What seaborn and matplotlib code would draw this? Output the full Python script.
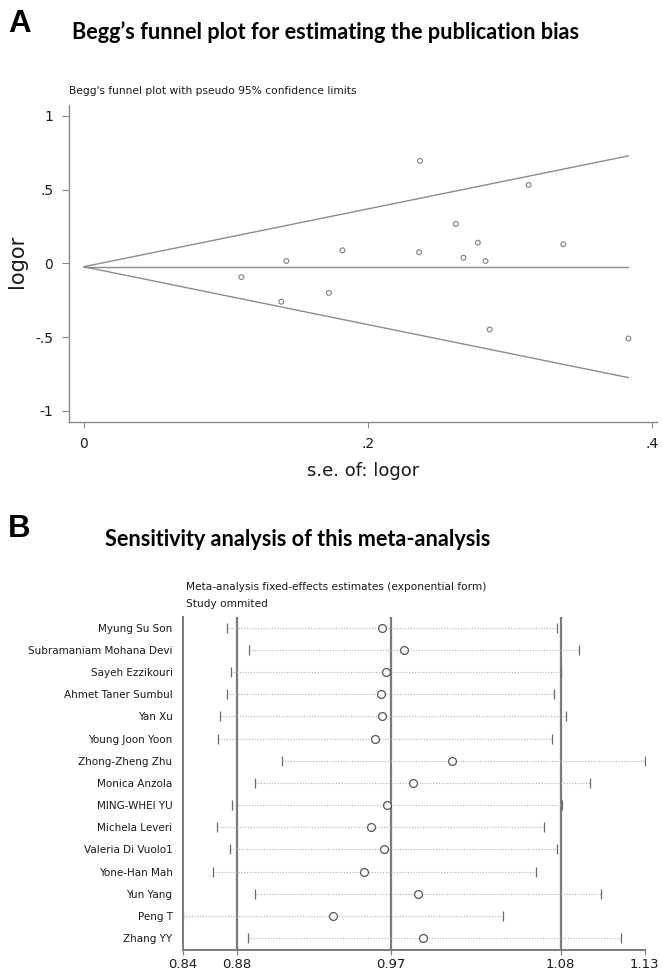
import numpy as np
import pandas as pd
import matplotlib
matplotlib.use("Agg")
import matplotlib.pyplot as plt
import seaborn as sns

# ---------------- Panel A data (Begg's funnel plot) ----------------
se = [0.2365, 0.3129, 0.2617, 0.2772, 0.3373, 0.1820, 0.2359, 0.2671,
      0.2826, 0.1425, 0.1109, 0.1725, 0.1389, 0.2855, 0.3831]
logor = [0.694, 0.531, 0.267, 0.140, 0.129, 0.088, 0.075, 0.038,
         0.016, 0.016, -0.093, -0.200, -0.260, -0.448, -0.509]
pooled_logor = -0.023
a_yticks = [-1, -0.5, 0, 0.5, 1]
a_yticklabels = ["-1", "-.5", "0", ".5", "1"]
a_xticks = [0, 0.2, 0.4]
a_xticklabels = ["0", ".2", ".4"]

# ---------------- Panel B data (sensitivity analysis) ----------------
studies = ["Myung Su Son", "Subramaniam Mohana Devi", "Sayeh Ezzikouri",
           "Ahmet Taner Sumbul", "Yan Xu", "Young Joon Yoon", "Zhong-Zheng Zhu",
           "Monica Anzola", "MING-WHEI YU", "Michela Leveri", "Valeria Di Vuolo1",
           "Yone-Han Mah", "Yun Yang", "Peng T", "Zhang YY"]
est = [0.9684, 0.9821, 0.9708, 0.9676, 0.9684, 0.9638, 1.0127, 0.9877,
       0.9716, 0.9614, 0.9697, 0.9574, 0.9909, 0.9378, 0.9941]
lower = [0.8709, 0.8847, 0.8735, 0.8709, 0.8664, 0.8653, 0.9057, 0.8889,
         0.8743, 0.8650, 0.8730, 0.8621, 0.8889, 0.8435, 0.8845]
upper = [1.0783, 1.0919, 1.0807, 1.0765, 1.0837, 1.0751, 1.1335, 1.0988,
         1.0813, 1.0701, 1.0786, 1.0650, 1.1062, 1.0446, 1.1184]
pooled_lower, pooled_est, pooled_upper = 0.8775, 0.9739, 1.0807
b_xticklabels = ["0.84", "0.88", "0.97", "1.08", "1.13"]

sns.set_theme(style="white")
plt.rcParams["font.family"] = ["DejaVu Sans"]

W, H = 663, 975
fig = plt.figure(figsize=(W / 100, H / 100), dpi=100)


def fx(px):
    return px / W


def fy(py):
    return 1 - py / H


AXC = "#8a8a8a"
TXT = "#1a1a1a"

# ---------------- Panel A ----------------
axA = fig.add_axes([fx(68.9), fy(421.7), (657 - 68.9) / W, (421.7 - 105) / H])
dfA = pd.DataFrame({"se": se, "logor": logor})
smax = max(se)
axA.plot([0, smax], [pooled_logor, pooled_logor], color="#8c8c8c", lw=1.0)
axA.plot([0, smax], [pooled_logor, pooled_logor + 1.96 * smax], color="#8c8c8c", lw=1.0)
axA.plot([0, smax], [pooled_logor, pooled_logor - 1.96 * smax], color="#8c8c8c", lw=1.0)
sns.scatterplot(data=dfA, x="se", y="logor", ax=axA, marker="o", s=12,
                facecolor="none", edgecolor="#808080", linewidth=0.8, zorder=3)
axA.set_xlim(-0.0104, 0.4032)
axA.set_ylim(-1.0725, 1.0725)
axA.set_xticks(a_xticks)
axA.set_xticklabels(a_xticklabels)
axA.set_yticks(a_yticks)
axA.set_yticklabels(a_yticklabels)
for s in ("top", "right"):
    axA.spines[s].set_visible(False)
for s in ("left", "bottom"):
    axA.spines[s].set_color(AXC)
    axA.spines[s].set_linewidth(1.0)
axA.tick_params(axis="y", left=True, direction="out", length=5.3, width=0.8,
                color=AXC, pad=6, labelsize=10, labelcolor=TXT)
axA.tick_params(axis="x", bottom=True, direction="out", length=4, width=0.8,
                color=AXC, pad=7, labelsize=10, labelcolor=TXT)
axA.set_xlabel("s.e. of: logor", fontsize=13, color=TXT, va="center")
axA.set_ylabel("logor", fontsize=15, color=TXT, va="center", ha="center")
axA.xaxis.set_label_coords(0.5, (421.7 - 471) / (421.7 - 105))
axA.yaxis.set_label_coords((17 - 68.9) / (657 - 68.9), (421.7 - 261) / (421.7 - 105))

# ---------------- Panel B ----------------
axB = fig.add_axes([fx(183.1), fy(950), (644.8 - 183.1) / W, (950 - 616.7) / H])
rows = np.arange(len(studies))
dfB = pd.DataFrame({"study": studies, "est": est, "lower": lower,
                    "upper": upper, "row": rows})
for v in (pooled_lower, pooled_est, pooled_upper):
    axB.axvline(v, color="#7a7a7a", lw=1.6, zorder=1)
axB.hlines(dfB["row"], dfB["lower"], dfB["upper"], colors="#b0b0b0",
           linestyles=(0, (1, 1.5)), lw=0.8, zorder=2)
axB.plot(dfB["lower"], dfB["row"], ls="none", marker="|", ms=7.5, mew=0.9,
         color="#6a6a6a", zorder=2)
axB.plot(dfB["upper"], dfB["row"], ls="none", marker="|", ms=7.5, mew=0.9,
         color="#6a6a6a", zorder=2)
sns.scatterplot(data=dfB, x="est", y="row", ax=axB, marker="o", s=32,
                facecolor="white", edgecolor="#555555", linewidth=0.9, zorder=3)
axB.set_xlim(min(lower), max(upper))
axB.set_ylim(14.53, -0.49)
axB.set_xticks([min(lower), pooled_lower, pooled_est, pooled_upper, max(upper)])
axB.set_xticklabels(b_xticklabels)
axB.set_yticks(rows)
axB.set_yticklabels(studies)
axB.set_xlabel("")
axB.set_ylabel("")
for s in ("top", "right"):
    axB.spines[s].set_visible(False)
for s in ("left", "bottom"):
    axB.spines[s].set_color("#7a7a7a")
    axB.spines[s].set_linewidth(1.4)
axB.tick_params(axis="y", left=False, length=0, pad=7.6, labelsize=7.5, labelcolor=TXT)
axB.tick_params(axis="x", bottom=True, direction="out", length=3.5, width=0.8,
                color="#7a7a7a", pad=2.5, labelsize=9.5, labelcolor=TXT)

# ---------------- Figure texts ----------------
fig.text(fx(8.3), fy(31.7), "A", fontsize=22.5, fontweight="bold",
         family=["Liberation Sans", "DejaVu Sans"], ha="left", va="baseline", color="#000")
fig.text(fx(71.7), fy(39.3), "Begg\u2019s funnel plot for estimating the publication bias",
         fontsize=15.6, fontweight="bold", family=["Lato", "DejaVu Sans"],
         ha="left", va="baseline", color="#000")
fig.text(fx(68.9), fy(90.5), "Begg's funnel plot with pseudo 95% confidence limits",
         fontsize=7.7, ha="left", va="center", color=TXT)

fig.text(fx(8.3), fy(536.7), "B", fontsize=22.5, fontweight="bold",
         family=["Liberation Sans", "DejaVu Sans"], ha="left", va="baseline", color="#000")
fig.text(fx(105), fy(546.5), "Sensitivity analysis of this meta-analysis",
         fontsize=15.6, fontweight="bold", family=["Lato", "DejaVu Sans"],
         ha="left", va="baseline", color="#000")
fig.text(fx(186.5), fy(586.7), "Meta-analysis fixed-effects estimates (exponential form)",
         fontsize=7.6, ha="left", va="center", color=TXT)
fig.text(fx(186.5), fy(604), "Study ommited", fontsize=7.6, ha="left", va="center", color=TXT)

fig.savefig("out.png", dpi=100)
